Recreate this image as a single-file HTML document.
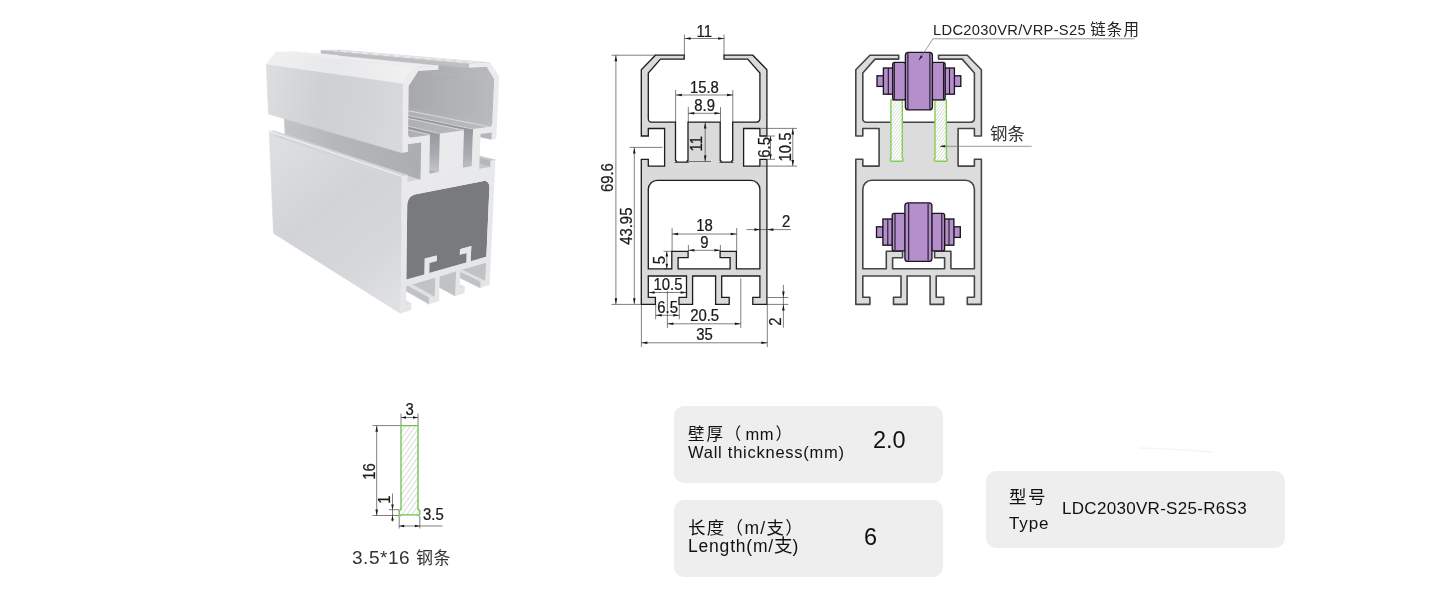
<!DOCTYPE html>
<html lang="zh">
<head>
<meta charset="utf-8">
<title>LDC2030VR-S25-R6S3</title>
<style>
html,body{margin:0;padding:0;background:#fff;}
body{width:1440px;height:604px;position:relative;overflow:hidden;font-family:"Liberation Sans","Noto Sans CJK SC",sans-serif;color:#111;}
.box{position:absolute;background:#eeeeee;border-radius:10px;}
.lbl{will-change:transform;position:absolute;font-size:16px;line-height:16px;white-space:nowrap;color:#111;}
.val{will-change:transform;position:absolute;font-size:21px;line-height:21px;white-space:nowrap;color:#111;}
svg{position:absolute;left:0;top:0;will-change:transform;}
</style>
</head>
<body>
<div class="box" style="left:674px;top:406px;width:269px;height:77px;"></div>
<div class="lbl" style="left:688px;top:426.2px;font-size:16.5px;letter-spacing:1.9px;">壁厚<span style="letter-spacing:4.2px;">（</span><span style="letter-spacing:0.5px;">mm</span><span style="margin-left:1.6px;">）</span></div>
<div class="lbl" style="left:688px;top:443.8px;font-size:16.5px;letter-spacing:0.75px;">Wall thickness(mm)</div>
<div class="val" style="left:873px;top:429px;font-size:23.5px;line-height:23px;">2.0</div>

<div class="box" style="left:674px;top:500px;width:269px;height:77px;"></div>
<div class="lbl" style="left:688px;top:519.8px;font-size:17.5px;letter-spacing:1.3px;">长度（m/支）</div>
<div class="lbl" style="left:688px;top:538px;font-size:17.5px;letter-spacing:0.8px;">Length(m/<span style="font-size:18.5px;letter-spacing:0">支</span>)</div>
<div class="val" style="left:864px;top:526.2px;font-size:23.5px;line-height:23px;">6</div>

<div class="box" style="left:986px;top:471px;width:299px;height:77px;"></div>
<div class="lbl" style="left:1009px;top:488.8px;font-size:17.5px;letter-spacing:1.6px;">型号</div>
<div class="lbl" style="left:1009px;top:515.8px;font-size:17px;letter-spacing:0.9px;">Type</div>
<div class="lbl" style="left:1062px;top:500.6px;font-size:17px;letter-spacing:0.3px;">LDC2030VR-S25-R6S3</div>

<div class="lbl" style="left:351.5px;top:547.7px;font-size:19px;line-height:19px;letter-spacing:0.55px;color:#333;">3.5*16 <span style="font-size:17px;letter-spacing:0.3px;">钢条</span></div>

<div class="lbl" style="left:933px;top:21px;font-size:14.7px;line-height:17px;letter-spacing:0.3px;color:#222;">LDC2030VR/VRP-S25 <span style="font-size:15.5px;letter-spacing:1.1px;">链条用</span></div>
<div class="lbl" style="left:990.3px;top:124.3px;font-size:17.5px;line-height:20px;color:#333;">钢条</div>

<svg id="draw" width="1440" height="604" viewBox="0 0 1440 604">
<!--3D-START-->
<defs>
<filter id="soft" x="-5%" y="-5%" width="110%" height="110%"><feGaussianBlur stdDeviation="0.45"/></filter>
<linearGradient id="gSideU" gradientUnits="userSpaceOnUse" x1="266" y1="90" x2="402" y2="112"><stop offset="0" stop-color="#dcdddf"/><stop offset="0.4" stop-color="#cfd0d3"/><stop offset="0.72" stop-color="#d2d3d6"/><stop offset="1" stop-color="#d8d9db"/></linearGradient>
<linearGradient id="gSideL" gradientUnits="userSpaceOnUse" x1="275" y1="150" x2="395" y2="300"><stop offset="0" stop-color="#dddee0"/><stop offset="0.4" stop-color="#d2d3d6"/><stop offset="0.75" stop-color="#d6d7da"/><stop offset="1" stop-color="#dfe0e2"/></linearGradient>
<linearGradient id="gCham" gradientUnits="userSpaceOnUse" x1="270" y1="58" x2="410" y2="76"><stop offset="0" stop-color="#f0f0f1"/><stop offset="0.45" stop-color="#e7e8e9"/><stop offset="1" stop-color="#f1f1f2"/></linearGradient>
<linearGradient id="gTop" gradientUnits="userSpaceOnUse" x1="330" y1="50" x2="480" y2="62"><stop offset="0" stop-color="#d3d5d8"/><stop offset="1" stop-color="#d9dbde"/></linearGradient>
<linearGradient id="gInL" gradientUnits="userSpaceOnUse" x1="400" y1="0" x2="500" y2="0"><stop offset="0" stop-color="#a5a7ab"/><stop offset="1" stop-color="#b9bbbe"/></linearGradient>
<linearGradient id="gInU" gradientUnits="userSpaceOnUse" x1="400" y1="0" x2="500" y2="0"><stop offset="0" stop-color="#adafb3"/><stop offset="1" stop-color="#bbbdc0"/></linearGradient>
<linearGradient id="gFront" gradientUnits="userSpaceOnUse" x1="400" y1="60" x2="500" y2="300"><stop offset="0" stop-color="#ededee"/><stop offset="1" stop-color="#e4e5e7"/></linearGradient>
<linearGradient id="gSlot" gradientUnits="userSpaceOnUse" x1="0" y1="128" x2="0" y2="172"><stop offset="0" stop-color="#93969a"/><stop offset="0.6" stop-color="#a8abaf"/><stop offset="1" stop-color="#c4c6c9"/></linearGradient>
<linearGradient id="gGroove" gradientUnits="userSpaceOnUse" x1="284" y1="0" x2="420" y2="0"><stop offset="0" stop-color="#c2c4c7"/><stop offset="0.4" stop-color="#b4b6ba"/><stop offset="1" stop-color="#abaeb1"/></linearGradient>
</defs>
<g id="render3d" filter="url(#soft)">
<polygon points="485.3,280.5 480.7,282 341.3,214.7 345.3,213.9" fill="#dfe1e3" stroke="#dfe1e3" stroke-width="0.6" stroke-linejoin="round"/>
<polygon points="486.1,262.8 485.3,280.5 345.3,213.9 345.1,200.3" fill="#c0c2c6" stroke="#c0c2c6" stroke-width="0.6" stroke-linejoin="round"/>
<polygon points="480.7,282 480.4,287.9 341.3,219.2 341.3,214.7" fill="#c0c2c6" stroke="#c0c2c6" stroke-width="0.6" stroke-linejoin="round"/>
<polygon points="464.9,286.9 459.8,288.5 323.2,218.4 327.6,217.5" fill="#dfe1e3" stroke="#dfe1e3" stroke-width="0.6" stroke-linejoin="round"/>
<polygon points="456.1,271.6 455.3,295.9 319.7,223.7 319.2,205.2" fill="#c0c2c6" stroke="#c0c2c6" stroke-width="0.6" stroke-linejoin="round"/>
<polygon points="495.4,160 490.6,160.8 344.1,122.9 348.2,122.5" fill="#c6c8cb" stroke="#c6c8cb" stroke-width="0.6" stroke-linejoin="round"/>
<polygon points="490.6,160.8 490.4,167 344.2,127.6 344.1,122.9" fill="#b4b7bb" stroke="#b4b7bb" stroke-width="0.6" stroke-linejoin="round"/>
<polygon points="490.4,167 479.2,169 334.5,128.7 344.2,127.6" fill="#c6c8cb" stroke="#c6c8cb" stroke-width="0.6" stroke-linejoin="round"/>
<polygon points="491.9,132.4 491.6,139.4 343.9,106.9 343.9,101.7" fill="#b4b7bb" stroke="#b4b7bb" stroke-width="0.6" stroke-linejoin="round"/>
<polygon points="434.8,296.4 429.3,298.1 297.3,223.6 301.9,222.7" fill="#dfe1e3" stroke="#dfe1e3" stroke-width="0.6" stroke-linejoin="round"/>
<polygon points="435.2,277.7 434.8,296.4 301.9,222.7 301.5,208.5" fill="#c0c2c6" stroke="#c0c2c6" stroke-width="0.6" stroke-linejoin="round"/>
<polygon points="429.3,298.1 429.2,304.3 297.4,228.3 297.3,223.6" fill="#c0c2c6" stroke="#c0c2c6" stroke-width="0.6" stroke-linejoin="round"/>
<polygon points="492.3,123.3 491.9,125 343.5,96.1 343.8,94.9" fill="url(#gInL)" stroke="url(#gInL)" stroke-width="0.6" stroke-linejoin="round"/>
<polygon points="491.9,125 491,126.3 342.8,97.1 343.5,96.1" fill="url(#gInL)" stroke="url(#gInL)" stroke-width="0.6" stroke-linejoin="round"/>
<polygon points="491,126.3 489.8,126.9 341.7,97.5 342.8,97.1" fill="url(#gInU)" stroke="url(#gInU)" stroke-width="0.6" stroke-linejoin="round"/>
<polygon points="494.3,79.3 492.3,123.3 343.8,94.9 343.4,62.3" fill="url(#gInL)" stroke="url(#gInL)" stroke-width="0.6" stroke-linejoin="round"/>
<polygon points="489.8,126.9 473.1,129.1 327.4,98.7 341.7,97.5" fill="url(#gInU)" stroke="url(#gInU)" stroke-width="0.6" stroke-linejoin="round"/>
<polygon points="471.7,166.2 462.8,167.8 320.3,127.2 327.9,126.3" fill="url(#gInU)" stroke="url(#gInU)" stroke-width="0.6" stroke-linejoin="round"/>
<polygon points="473.1,129.1 471.7,166.2 327.9,126.3 327.4,98.7" fill="url(#gSlot)" stroke="url(#gSlot)" stroke-width="0.6" stroke-linejoin="round"/>
<polygon points="411.5,303.7 406.1,305.4 277.8,227.6 282.4,226.7" fill="#dfe1e3" stroke="#dfe1e3" stroke-width="0.6" stroke-linejoin="round"/>
<polygon points="486.8,66.7 494.3,79.3 343.4,62.3 336.3,52.9" fill="url(#gInL)" stroke="url(#gInL)" stroke-width="0.6" stroke-linejoin="round"/>
<polygon points="490,62.6 469.1,63.9 321,50.6 338.9,50" fill="url(#gTop)" stroke="url(#gTop)" stroke-width="0.6" stroke-linejoin="round"/>
<polygon points="464,130.3 439.8,133.6 299.2,101.1 319.7,99.4" fill="url(#gInU)" stroke="url(#gInU)" stroke-width="0.6" stroke-linejoin="round"/>
<polygon points="438.9,172 429.3,173.7 292,130.4 300.1,129.5" fill="url(#gInU)" stroke="url(#gInU)" stroke-width="0.6" stroke-linejoin="round"/>
<polygon points="439.8,133.6 438.9,172 300.1,129.5 299.2,101.1" fill="url(#gSlot)" stroke="url(#gSlot)" stroke-width="0.6" stroke-linejoin="round"/>
<polygon points="469.1,63.9 469,67.8 321.1,53.5 321,50.6" fill="#bdbfc2" stroke="#bdbfc2" stroke-width="0.6" stroke-linejoin="round"/>
<polygon points="401.8,176.3 400.5,313.5 273.5,233.3 269.2,131.2" fill="url(#gSideL)" stroke="url(#gSideL)" stroke-width="0.6" stroke-linejoin="round"/>
<polygon points="420.6,179.6 407.5,182 274.1,135.7 285,134.4" fill="#d3d5d8" stroke="#d3d5d8" stroke-width="0.6" stroke-linejoin="round"/>
<polygon points="421.2,142.4 420.6,179.6 285,134.4 284,107.1" fill="url(#gGroove)" stroke="url(#gGroove)" stroke-width="0.6" stroke-linejoin="round"/>
<polygon points="430,134.9 410.9,137.5 275.2,103.2 291,101.8" fill="url(#gInU)" stroke="url(#gInU)" stroke-width="0.6" stroke-linejoin="round"/>
<polygon points="407.6,175.3 401.8,176.3 269.2,131.2 273.9,130.7" fill="#d3d5d8" stroke="#d3d5d8" stroke-width="0.6" stroke-linejoin="round"/>
<polygon points="410.9,137.5 409.5,137.2 274,102.9 275.2,103.2" fill="url(#gInU)" stroke="url(#gInU)" stroke-width="0.6" stroke-linejoin="round"/>
<polygon points="438.4,65.7 414.9,67.1 275.7,52.3 295.2,51.6" fill="#eeeeef" stroke="#eeeeef" stroke-width="0.6" stroke-linejoin="round"/>
<polygon points="402.7,83.4 402.1,152.8 268.5,114.1 266.3,63.9" fill="url(#gSideU)" stroke="url(#gSideU)" stroke-width="0.6" stroke-linejoin="round"/>
<polygon points="414.9,67.1 402.7,83.4 266.3,63.9 275.7,52.3" fill="url(#gCham)" stroke="url(#gCham)" stroke-width="0.6" stroke-linejoin="round"/>
<polyline points="472.8,62.5 457.8,61.2 443.5,59.9 430,58.8 417.2,57.7 405.1,56.6 393.5,55.6 382.5,54.7 372,53.8 361.9,52.9 352.3,52.1 343.2,51.3 334.4,50.5" fill="none" stroke="#eceded" stroke-width="1.6" stroke-dasharray="6 4.5"/>
<polyline points="479.2,62.1 464.1,60.8 449.8,59.6 436.3,58.5 423.4,57.4 411.2,56.3 399.5,55.4 388.4,54.4 377.8,53.5 367.7,52.7 358.1,51.9 348.8,51.1 340,50.3" fill="none" stroke="#e4e5e7" stroke-width="1.1" stroke-dasharray="6 4.5"/>
<polyline points="401.8,176.3 379.9,168.8 359.9,162 341.5,155.8 324.7,150.1 309.2,144.8 294.8,140 281.5,135.4 269.2,131.2" fill="none" stroke="#f1f1f2" stroke-width="1.1"/>
<clipPath id="cpCh"><polygon points="438.4,65.7 438.4,69.7 419.1,71 408.7,86.5 408,137.9 492.2,126.6 494.2,79.7 486.2,66.7 469,67.8 469.1,63.9"/></clipPath>
<g clip-path="url(#cpCh)" fill="none" stroke="#d9dadc" stroke-width="0.9">
<polyline points="489.5,126.9 465.5,122.1 443.4,117.7 423.1,113.7 404.3,110 386.9,106.5 370.7,103.3 355.6,100.3 341.5,97.5"/>
<polyline points="473.1,129.1 449.3,124.2 427.5,119.6 407.5,115.4 389,111.6 371.9,108 356,104.7 341.2,101.6 327.4,98.7"/>
<polyline points="464,130.3 440.4,125.3 418.8,120.6 398.9,116.4 380.6,112.4 363.7,108.8 347.9,105.4 333.3,102.3 319.7,99.4"/>
<polyline points="439.8,133.6 416.7,128.2 395.5,123.4 376.1,118.9 358.3,114.8 341.8,111 326.6,107.4 312.4,104.2 299.2,101.1"/>
<polyline points="430,134.9 407.1,129.4 386.2,124.5 367,119.9 349.4,115.7 333.1,111.8 318,108.2 304,104.9 291,101.8"/>
</g>
<polygon points="407.2,204.8 407.6,202 408.7,199.3 410.3,197.1 412.4,195.4 414.6,194.6 483.7,181 485.6,181 487.2,181.8 488.5,183.3 489.3,185.4 489.4,187.8 486.4,256.7 470.7,261.2 471.3,246.1 460,249.2 459.8,254.8 466.7,252.9 466.4,262.4 429.2,273.1 429.4,263.1 436.8,261.1 436.9,255.4 424.7,258.6 424.4,274.5 406.4,279.6" fill="#797a7d"/>
<path d="M438.4 65.7L414.9 67.1L402.7 83.4L402.1 152.8L407.9 151.9L408 144.3L421.2 142.4L420.6 179.6L407.5 182L407.6 175.3L401.8 176.3L400.5 313.5L411.4 310L411.5 303.7L406.1 305.4L406.3 286.2L435.2 277.7L434.8 296.4L429.3 298.1L429.2 304.3L439.1 301.1L439.7 276.4L456.1 271.6L455.3 295.9L464.7 292.9L464.9 286.9L459.8 288.5L460.4 270.3L486.1 262.8L485.3 280.5L480.7 282L480.4 287.9L489.6 284.9L495.4 160L490.6 160.8L490.4 167L479.2 169L480.6 134L491.9 132.4L491.6 139.4L496.3 138.7L499.2 76.1L490 62.6L469.1 63.9L469 67.8L486.8 66.7L494.3 79.3L492.3 123.3L491.9 125L491 126.3L489.8 126.9L473.1 129.1L471.7 166.2L462.8 167.8L464 130.3L439.8 133.6L438.9 172L429.3 173.7L430 134.9L410.9 137.5L409.5 137.2L408.5 136L408.1 134.3L408.7 86.1L418.4 71L438.4 69.7ZM407.2 204.8L407.6 202L408.7 199.3L410.3 197.1L412.4 195.4L414.6 194.6L483.7 181L485.6 181L487.2 181.8L488.5 183.3L489.3 185.4L489.4 187.8L486.4 256.7L470.7 261.2L471.3 246.1L460 249.2L459.8 254.8L466.7 252.9L466.4 262.4L429.2 273.1L429.4 263.1L436.8 261.1L436.9 255.4L424.7 258.6L424.4 274.5L406.4 279.6Z" fill="url(#gFront)" fill-rule="evenodd"/>
</g>
<!--3D-END-->
<defs>
<pattern id="hatchS" width="2.4" height="2.4" patternUnits="userSpaceOnUse" patternTransform="rotate(-55)"><rect width="2.4" height="2.4" fill="#fff"/><line x1="0" y1="0" x2="2.4" y2="0" stroke="#bccbb5" stroke-width="1"/></pattern>
<pattern id="hatchL" width="4" height="4" patternUnits="userSpaceOnUse" patternTransform="rotate(-55)"><rect width="4" height="4" fill="#fff"/><line x1="0" y1="0" x2="4" y2="0" stroke="#9aa39a" stroke-width="0.8"/></pattern>
</defs>
<g id="profile-dim" font-family="'Liberation Sans',sans-serif">
<path d="M684.2 55.2L655.4 55.2L641.3 69.7L641.3 136L648.3 136L648.3 128.5L664.6 128.5L664.6 166.1L648.3 166.1L648.3 159.3L641.3 159.3L641.3 304.4L655.4 304.4L655.4 297.3L648.3 297.3L648.3 276L686.5 276L686.5 297.3L679 297.3L679 304.4L692.6 304.4L692.6 276L715.6 276L715.6 304.4L729.2 304.4L729.2 297.3L721.7 297.3L721.7 276L759.9 276L759.9 297.3L752.8 297.3L752.8 304.4L766.9 304.4L766.9 159.3L759.9 159.3L759.9 166.1L743.6 166.1L743.6 128.5L759.9 128.5L759.9 136L766.9 136L766.9 69.7L752.8 55.2L724 55.2L724 59.1L747.7 59.1L759.9 73L759.9 118.7A3.5 3.5 0 0 1 756.4 122.2L732.7 122.2L732.7 160.4A1 1 0 0 0 732.1 162.2L720.8 162.2A1 1 0 0 0 720.2 160.4L720.2 122.2L688 122.2L688 160.4A1 1 0 0 0 687.4 162.2L676.1 162.2A1 1 0 0 0 675.5 160.4L675.5 122.2L651.8 122.2A3.5 3.5 0 0 1 648.3 118.7L648.3 73L660.5 59.1L684.2 59.1ZM657.3 180.3L750.9 180.3A9 9 0 0 1 759.9 189.3L759.9 268.8L736.4 268.8L736.4 251.3L720.1 251.3L720.1 257.7L730.1 257.7L730.1 268.8L678.1 268.8L678.1 257.7L688.1 257.7L688.1 251.3L671.8 251.3L671.8 268.8L648.3 268.8L648.3 189.3A9 9 0 0 1 657.3 180.3Z" fill="#dadada" fill-rule="evenodd" stroke="#1c1c1c" stroke-width="1.3" stroke-linejoin="miter"/>
<line x1="684.4" y1="34.5" x2="684.4" y2="55" stroke="#2a2a2a" stroke-width="0.6" fill="none"/>
<line x1="724" y1="34.5" x2="724" y2="55" stroke="#2a2a2a" stroke-width="0.6" fill="none"/>
<line x1="684.6" y1="38.5" x2="724.2" y2="38.5" stroke="#2a2a2a" stroke-width="0.6" fill="none"/>
<polygon points="684.6,38.5 690.6,37.2 690.6,39.8" fill="#1a1a1a"/>
<polygon points="724.2,38.5 718.2,39.8 718.2,37.2" fill="#1a1a1a"/>
<text font-size="16" text-anchor="middle" fill="#1a1a1a" stroke="#1a1a1a" stroke-width="0.25" transform="translate(704.2 36.6) scale(0.93 1)">11</text>
<line x1="675.6" y1="90" x2="675.6" y2="122" stroke="#2a2a2a" stroke-width="0.6" fill="none"/>
<line x1="732.8" y1="90" x2="732.8" y2="122" stroke="#2a2a2a" stroke-width="0.6" fill="none"/>
<line x1="675.8" y1="95" x2="733" y2="95" stroke="#2a2a2a" stroke-width="0.6" fill="none"/>
<polygon points="675.8,95 681.8,93.7 681.8,96.3" fill="#1a1a1a"/>
<polygon points="733,95 727,96.3 727,93.7" fill="#1a1a1a"/>
<text font-size="16" text-anchor="middle" fill="#1a1a1a" stroke="#1a1a1a" stroke-width="0.25" transform="translate(704.4 92.6) scale(0.93 1)">15.8</text>
<line x1="688.3" y1="107" x2="688.3" y2="122" stroke="#2a2a2a" stroke-width="0.6" fill="none"/>
<line x1="720.5" y1="107" x2="720.5" y2="122" stroke="#2a2a2a" stroke-width="0.6" fill="none"/>
<line x1="688.3" y1="113.3" x2="720.5" y2="113.3" stroke="#2a2a2a" stroke-width="0.6" fill="none"/>
<polygon points="688.3,113.3 694.3,112 694.3,114.6" fill="#1a1a1a"/>
<polygon points="720.5,113.3 714.5,114.6 714.5,112" fill="#1a1a1a"/>
<text font-size="16" text-anchor="middle" fill="#1a1a1a" stroke="#1a1a1a" stroke-width="0.25" transform="translate(704.6 111.2) scale(0.93 1)">8.9</text>
<line x1="705.2" y1="122.2" x2="705.2" y2="161.5" stroke="#2a2a2a" stroke-width="0.6" fill="none"/>
<line x1="688.3" y1="161.5" x2="711" y2="161.5" stroke="#2a2a2a" stroke-width="0.6" fill="none"/>
<polygon points="705.2,122.4 706.5,128.4 703.9,128.4" fill="#1a1a1a"/>
<polygon points="705.2,161.4 703.9,155.4 706.5,155.4" fill="#1a1a1a"/>
<text font-size="16" text-anchor="middle" fill="#1a1a1a" stroke="#1a1a1a" stroke-width="0.25" transform="translate(701.5 143.8) rotate(-90) scale(0.93 1)">11</text>
<line x1="767.5" y1="136" x2="775" y2="136" stroke="#2a2a2a" stroke-width="0.6" fill="none"/>
<line x1="767.5" y1="159.3" x2="775" y2="159.3" stroke="#2a2a2a" stroke-width="0.6" fill="none"/>
<line x1="770.5" y1="136" x2="770.5" y2="159.3" stroke="#2a2a2a" stroke-width="0.6" fill="none"/>
<polygon points="770.5,136.1 771.8,141.1 769.2,141.1" fill="#1a1a1a"/>
<polygon points="770.5,159.2 769.2,154.2 771.8,154.2" fill="#1a1a1a"/>
<text font-size="16" text-anchor="middle" fill="#1a1a1a" stroke="#1a1a1a" stroke-width="0.25" transform="translate(769.5 147.4) rotate(-90) scale(0.93 1)">6.5</text>
<line x1="761" y1="128.4" x2="797" y2="128.4" stroke="#2a2a2a" stroke-width="0.6" fill="none"/>
<line x1="761" y1="166.1" x2="797" y2="166.1" stroke="#2a2a2a" stroke-width="0.6" fill="none"/>
<line x1="792.8" y1="128.4" x2="792.8" y2="166.1" stroke="#2a2a2a" stroke-width="0.6" fill="none"/>
<polygon points="792.8,128.5 794.1,134.5 791.5,134.5" fill="#1a1a1a"/>
<polygon points="792.8,166 791.5,160 794.1,160" fill="#1a1a1a"/>
<text font-size="16" text-anchor="middle" fill="#1a1a1a" stroke="#1a1a1a" stroke-width="0.25" transform="translate(791.3 147) rotate(-90) scale(0.93 1)">10.5</text>
<line x1="611.5" y1="55.2" x2="656" y2="55.2" stroke="#2a2a2a" stroke-width="0.6" fill="none"/>
<line x1="611.5" y1="304.4" x2="641" y2="304.4" stroke="#2a2a2a" stroke-width="0.6" fill="none"/>
<line x1="615.9" y1="55.2" x2="615.9" y2="304.4" stroke="#2a2a2a" stroke-width="0.6" fill="none"/>
<polygon points="615.9,55.3 617.2,61.3 614.6,61.3" fill="#1a1a1a"/>
<polygon points="615.9,304.3 614.6,298.3 617.2,298.3" fill="#1a1a1a"/>
<text font-size="16" text-anchor="middle" fill="#1a1a1a" stroke="#1a1a1a" stroke-width="0.25" transform="translate(612.8 177.6) rotate(-90) scale(0.93 1)">69.6</text>
<line x1="629.5" y1="147.4" x2="662.5" y2="147.4" stroke="#2a2a2a" stroke-width="0.6" fill="none"/>
<line x1="634.3" y1="147.4" x2="634.3" y2="304.4" stroke="#2a2a2a" stroke-width="0.6" fill="none"/>
<polygon points="634.3,147.5 635.6,153.5 633,153.5" fill="#1a1a1a"/>
<polygon points="634.3,304.3 633,298.3 635.6,298.3" fill="#1a1a1a"/>
<text font-size="16" text-anchor="middle" fill="#1a1a1a" stroke="#1a1a1a" stroke-width="0.25" transform="translate(631.8 226.2) rotate(-90) scale(0.93 1)">43.95</text>
<line x1="746.5" y1="229.6" x2="791" y2="229.6" stroke="#2a2a2a" stroke-width="0.6" fill="none"/>
<polygon points="760.4,229.6 754.4,230.9 754.4,228.3" fill="#1a1a1a"/>
<polygon points="767.4,229.6 773.4,228.3 773.4,230.9" fill="#1a1a1a"/>
<text font-size="16" text-anchor="middle" fill="#1a1a1a" stroke="#1a1a1a" stroke-width="0.25" transform="translate(786.2 227.2) scale(0.93 1)">2</text>
<line x1="672.1" y1="228" x2="672.1" y2="251" stroke="#2a2a2a" stroke-width="0.6" fill="none"/>
<line x1="736.7" y1="228" x2="736.7" y2="251" stroke="#2a2a2a" stroke-width="0.6" fill="none"/>
<line x1="672.1" y1="234" x2="736.7" y2="234" stroke="#2a2a2a" stroke-width="0.6" fill="none"/>
<polygon points="672.1,234 678.1,232.7 678.1,235.3" fill="#1a1a1a"/>
<polygon points="736.7,234 730.7,235.3 730.7,232.7" fill="#1a1a1a"/>
<text font-size="16" text-anchor="middle" fill="#1a1a1a" stroke="#1a1a1a" stroke-width="0.25" transform="translate(704.4 231.4) scale(0.93 1)">18</text>
<line x1="688.4" y1="245" x2="688.4" y2="251" stroke="#2a2a2a" stroke-width="0.6" fill="none"/>
<line x1="720.4" y1="245" x2="720.4" y2="251" stroke="#2a2a2a" stroke-width="0.6" fill="none"/>
<line x1="688.4" y1="250.3" x2="720.4" y2="250.3" stroke="#2a2a2a" stroke-width="0.6" fill="none"/>
<polygon points="688.4,250.3 694.4,249 694.4,251.6" fill="#1a1a1a"/>
<polygon points="720.4,250.3 714.4,251.6 714.4,249" fill="#1a1a1a"/>
<text font-size="16" text-anchor="middle" fill="#1a1a1a" stroke="#1a1a1a" stroke-width="0.25" transform="translate(704.4 248) scale(0.93 1)">9</text>
<line x1="663.5" y1="251.3" x2="672" y2="251.3" stroke="#2a2a2a" stroke-width="0.6" fill="none"/>
<line x1="663.5" y1="268.8" x2="672" y2="268.8" stroke="#2a2a2a" stroke-width="0.6" fill="none"/>
<line x1="666.8" y1="251.3" x2="666.8" y2="268.8" stroke="#2a2a2a" stroke-width="0.6" fill="none"/>
<polygon points="666.8,251.4 668.1,256.4 665.5,256.4" fill="#1a1a1a"/>
<polygon points="666.8,268.7 665.5,263.7 668.1,263.7" fill="#1a1a1a"/>
<text font-size="16" text-anchor="middle" fill="#1a1a1a" stroke="#1a1a1a" stroke-width="0.25" transform="translate(664.6 260.1) rotate(-90) scale(0.93 1)">5</text>
<line x1="648.4" y1="292.5" x2="686.8" y2="292.5" stroke="#2a2a2a" stroke-width="0.6" fill="none"/>
<polygon points="648.6,292.5 654.6,291.2 654.6,293.8" fill="#1a1a1a"/>
<polygon points="686.6,292.5 680.6,293.8 680.6,291.2" fill="#1a1a1a"/>
<text font-size="16" text-anchor="middle" fill="#1a1a1a" stroke="#1a1a1a" stroke-width="0.25" transform="translate(668 290) scale(0.93 1)">10.5</text>
<line x1="655.7" y1="304.4" x2="655.7" y2="319.3" stroke="#2a2a2a" stroke-width="0.6" fill="none"/>
<line x1="679.3" y1="304.4" x2="679.3" y2="319.3" stroke="#2a2a2a" stroke-width="0.6" fill="none"/>
<line x1="655.7" y1="315.3" x2="679.3" y2="315.3" stroke="#2a2a2a" stroke-width="0.6" fill="none"/>
<polygon points="655.7,315.3 661.7,314 661.7,316.6" fill="#1a1a1a"/>
<polygon points="679.3,315.3 673.3,316.6 673.3,314" fill="#1a1a1a"/>
<text font-size="16" text-anchor="middle" fill="#1a1a1a" stroke="#1a1a1a" stroke-width="0.25" transform="translate(667.6 312.8) scale(0.93 1)">6.5</text>
<line x1="667.4" y1="291" x2="667.4" y2="328" stroke="#2a2a2a" stroke-width="0.6" fill="none"/>
<line x1="740.8" y1="278.4" x2="740.8" y2="328" stroke="#2a2a2a" stroke-width="0.6" fill="none"/>
<line x1="667.4" y1="323.8" x2="740.8" y2="323.8" stroke="#2a2a2a" stroke-width="0.6" fill="none"/>
<polygon points="667.4,323.8 673.4,322.5 673.4,325.1" fill="#1a1a1a"/>
<polygon points="740.8,323.8 734.8,325.1 734.8,322.5" fill="#1a1a1a"/>
<text font-size="16" text-anchor="middle" fill="#1a1a1a" stroke="#1a1a1a" stroke-width="0.25" transform="translate(704.6 321.2) scale(0.93 1)">20.5</text>
<line x1="641.4" y1="304.4" x2="641.4" y2="347" stroke="#2a2a2a" stroke-width="0.6" fill="none"/>
<line x1="767.3" y1="304.4" x2="767.3" y2="347" stroke="#2a2a2a" stroke-width="0.6" fill="none"/>
<line x1="641.4" y1="342.8" x2="767.3" y2="342.8" stroke="#2a2a2a" stroke-width="0.6" fill="none"/>
<polygon points="641.4,342.8 647.4,341.5 647.4,344.1" fill="#1a1a1a"/>
<polygon points="767.3,342.8 761.3,344.1 761.3,341.5" fill="#1a1a1a"/>
<text font-size="16" text-anchor="middle" fill="#1a1a1a" stroke="#1a1a1a" stroke-width="0.25" transform="translate(704.4 340.3) scale(0.93 1)">35</text>
<line x1="767.4" y1="297.5" x2="788.3" y2="297.5" stroke="#2a2a2a" stroke-width="0.6" fill="none"/>
<line x1="767.4" y1="304.4" x2="788.3" y2="304.4" stroke="#2a2a2a" stroke-width="0.6" fill="none"/>
<line x1="783.4" y1="284.8" x2="783.4" y2="327.7" stroke="#2a2a2a" stroke-width="0.6" fill="none"/>
<polygon points="783.4,297.4 782.1,291.4 784.7,291.4" fill="#1a1a1a"/>
<polygon points="783.4,304.5 784.7,310.5 782.1,310.5" fill="#1a1a1a"/>
<text font-size="16" text-anchor="middle" fill="#1a1a1a" stroke="#1a1a1a" stroke-width="0.25" transform="translate(781 321.6) rotate(-90) scale(0.93 1)">2</text>
</g>
<g id="profile-asm" font-family="'Liberation Sans','Noto Sans CJK SC',sans-serif">
<path d="M898.7 55.2L869.9 55.2L855.8 69.7L855.8 136L862.8 136L862.8 128.5L879.1 128.5L879.1 166.1L862.8 166.1L862.8 159.3L855.8 159.3L855.8 304.4L869.9 304.4L869.9 297.3L862.8 297.3L862.8 276L901 276L901 297.3L893.5 297.3L893.5 304.4L907.1 304.4L907.1 276L930.1 276L930.1 304.4L943.7 304.4L943.7 297.3L936.2 297.3L936.2 276L974.4 276L974.4 297.3L967.3 297.3L967.3 304.4L981.4 304.4L981.4 159.3L974.4 159.3L974.4 166.1L958.1 166.1L958.1 128.5L974.4 128.5L974.4 136L981.4 136L981.4 69.7L967.3 55.2L938.5 55.2L938.5 59.1L962.2 59.1L974.4 73L974.4 118.7A3.5 3.5 0 0 1 970.9 122.2L890 122.2L866.3 122.2A3.5 3.5 0 0 1 862.8 118.7L862.8 73L875 59.1L898.7 59.1ZM871.8 180.3L965.4 180.3A9 9 0 0 1 974.4 189.3L974.4 268.8L950.9 268.8L950.9 251.3L934.6 251.3L934.6 257.7L944.6 257.7L944.6 268.8L892.6 268.8L892.6 257.7L902.6 257.7L902.6 251.3L886.3 251.3L886.3 268.8L862.8 268.8L862.8 189.3A9 9 0 0 1 871.8 180.3Z" fill="#dcdcdc" fill-rule="evenodd" stroke="#454545" stroke-width="1.6" stroke-linejoin="round"/>
<path d="M890.9 100L902.3 100L902.3 158.2L903 159L903 160.4L902.3 161.2L890.9 161.2L890.2 160.4L890.2 159L890.9 158.2Z" fill="url(#hatchS)" stroke="#86cc52" stroke-width="1.4" stroke-linejoin="round"/>
<path d="M935 100L946.4 100L946.4 158.2L947.1 159L947.1 160.4L946.4 161.2L935 161.2L934.3 160.4L934.3 159L935 158.2Z" fill="url(#hatchS)" stroke="#86cc52" stroke-width="1.4" stroke-linejoin="round"/>
<rect x="877" y="75.8" width="6.6" height="10.6" rx="0" fill="#b48fcb" stroke="#1c1620" stroke-width="1.35"/><rect x="954.2" y="75.8" width="6.6" height="10.6" rx="0" fill="#b48fcb" stroke="#1c1620" stroke-width="1.35"/><rect x="883.4" y="68" width="9.5" height="26.2" rx="0" fill="#b48fcb" stroke="#1c1620" stroke-width="1.35"/><rect x="944.9" y="68" width="9.5" height="26.2" rx="0" fill="#b48fcb" stroke="#1c1620" stroke-width="1.35"/><line x1="888.3" y1="68" x2="888.3" y2="94.2" stroke="#1c1620" stroke-width="1.1"/><line x1="949.5" y1="68" x2="949.5" y2="94.2" stroke="#1c1620" stroke-width="1.1"/><rect x="892.7" y="62.3" width="13" height="37.6" rx="2" fill="#b48fcb" stroke="#1c1620" stroke-width="1.35"/><rect x="932.1" y="62.3" width="13" height="37.6" rx="2" fill="#b48fcb" stroke="#1c1620" stroke-width="1.35"/><line x1="894.3" y1="63.1" x2="894.3" y2="99.1" stroke="#1c1620" stroke-width="1.1"/><line x1="943.5" y1="63.1" x2="943.5" y2="99.1" stroke="#1c1620" stroke-width="1.1"/><rect x="905.4" y="52.3" width="27" height="57.6" rx="3" fill="#b48fcb" stroke="#1c1620" stroke-width="1.35"/><line x1="907.9" y1="53.1" x2="907.9" y2="109.1" stroke="#1c1620" stroke-width="1.1"/><line x1="929.9" y1="53.1" x2="929.9" y2="109.1" stroke="#1c1620" stroke-width="1.1"/>
<rect x="876.5" y="226.8" width="6.6" height="10.6" rx="0" fill="#b48fcb" stroke="#1c1620" stroke-width="1.35"/><rect x="953.7" y="226.8" width="6.6" height="10.6" rx="0" fill="#b48fcb" stroke="#1c1620" stroke-width="1.35"/><rect x="882.9" y="219" width="9.5" height="26.2" rx="0" fill="#b48fcb" stroke="#1c1620" stroke-width="1.35"/><rect x="944.4" y="219" width="9.5" height="26.2" rx="0" fill="#b48fcb" stroke="#1c1620" stroke-width="1.35"/><line x1="887.8" y1="219" x2="887.8" y2="245.2" stroke="#1c1620" stroke-width="1.1"/><line x1="949" y1="219" x2="949" y2="245.2" stroke="#1c1620" stroke-width="1.1"/><rect x="892.2" y="213.3" width="13" height="37.6" rx="2" fill="#b48fcb" stroke="#1c1620" stroke-width="1.35"/><rect x="931.6" y="213.3" width="13" height="37.6" rx="2" fill="#b48fcb" stroke="#1c1620" stroke-width="1.35"/><line x1="895" y1="214.1" x2="895" y2="250.1" stroke="#1c1620" stroke-width="1.1"/><line x1="941.8" y1="214.1" x2="941.8" y2="250.1" stroke="#1c1620" stroke-width="1.1"/><rect x="904.9" y="202.8" width="27" height="58.6" rx="3" fill="#b48fcb" stroke="#1c1620" stroke-width="1.35"/><line x1="908.7" y1="203.6" x2="908.7" y2="260.6" stroke="#1c1620" stroke-width="1.1"/><line x1="928.1" y1="203.6" x2="928.1" y2="260.6" stroke="#1c1620" stroke-width="1.1"/>
<polyline points="1134.5,38.8 933,38.8 918.9,60.2" stroke="#707070" stroke-width="0.7" fill="none"/>
<polygon points="918.7,60.6 920.7,55.3 922.7,56.7" fill="#222"/>
<line x1="940" y1="146.3" x2="1031.7" y2="146.3" stroke="#707070" stroke-width="0.7" fill="none"/>
<polygon points="939.6,146.3 945.1,145 945.1,147.6" fill="#222"/>
</g>
<g id="strip-dim" font-family="'Liberation Sans',sans-serif">
<path d="M401 425.6L418 425.6L418 509.7L419.8 510.4L419.8 514.6L418.6 515.6L417.2 514.8L401.8 514.8L400.4 515.6L399.2 514.6L399.2 510.4L401 509.7Z" fill="url(#hatchL)" stroke="#6cc04a" stroke-width="1.3" stroke-linejoin="round"/>
<line x1="401" y1="413.5" x2="401" y2="425" stroke="#2a2a2a" stroke-width="0.6" fill="none"/>
<line x1="418" y1="413.5" x2="418" y2="425" stroke="#2a2a2a" stroke-width="0.6" fill="none"/>
<line x1="401" y1="417.5" x2="418" y2="417.5" stroke="#2a2a2a" stroke-width="0.6" fill="none"/>
<polygon points="401,417.5 406,416.2 406,418.8" fill="#1a1a1a"/>
<polygon points="418,417.5 413,418.8 413,416.2" fill="#1a1a1a"/>
<text font-size="16" text-anchor="middle" fill="#1a1a1a" stroke="#1a1a1a" stroke-width="0.25" transform="translate(409.6 415.2) scale(0.93 1)">3</text>
<line x1="372.5" y1="425.6" x2="400.5" y2="425.6" stroke="#2a2a2a" stroke-width="0.6" fill="none"/>
<line x1="372.5" y1="515.5" x2="399" y2="515.5" stroke="#2a2a2a" stroke-width="0.6" fill="none"/>
<line x1="376.7" y1="425.6" x2="376.7" y2="515.5" stroke="#2a2a2a" stroke-width="0.6" fill="none"/>
<polygon points="376.7,425.7 378,431.7 375.4,431.7" fill="#1a1a1a"/>
<polygon points="376.7,515.4 375.4,509.4 378,509.4" fill="#1a1a1a"/>
<text font-size="16" text-anchor="middle" fill="#1a1a1a" stroke="#1a1a1a" stroke-width="0.25" transform="translate(374.6 471.5) rotate(-90) scale(0.93 1)">16</text>
<line x1="389" y1="509.7" x2="399" y2="509.7" stroke="#2a2a2a" stroke-width="0.6" fill="none"/>
<line x1="392.5" y1="493.5" x2="392.5" y2="521.5" stroke="#2a2a2a" stroke-width="0.6" fill="none"/>
<polygon points="392.5,509.6 391.2,504.6 393.8,504.6" fill="#1a1a1a"/>
<polygon points="392.5,515.6 393.8,520.6 391.2,520.6" fill="#1a1a1a"/>
<text font-size="16" text-anchor="middle" fill="#1a1a1a" stroke="#1a1a1a" stroke-width="0.25" transform="translate(390 499.6) rotate(-90) scale(0.93 1)">1</text>
<line x1="399.2" y1="516" x2="399.2" y2="528.5" stroke="#2a2a2a" stroke-width="0.6" fill="none"/>
<line x1="419.8" y1="516" x2="419.8" y2="528.5" stroke="#2a2a2a" stroke-width="0.6" fill="none"/>
<line x1="399.2" y1="526" x2="442.5" y2="526" stroke="#2a2a2a" stroke-width="0.6" fill="none"/>
<polygon points="399.2,526 404.2,524.7 404.2,527.3" fill="#1a1a1a"/>
<polygon points="419.8,526 414.8,527.3 414.8,524.7" fill="#1a1a1a"/>
<text font-size="16" text-anchor="middle" fill="#1a1a1a" stroke="#1a1a1a" stroke-width="0.25" transform="translate(433.4 520.3) scale(0.93 1)">3.5</text>
</g>
<path d="M1140 448L1180 449.6L1200 451L1213 452.2" fill="none" stroke="#f5f5f5" stroke-width="1.4" stroke-linecap="round"/>
</svg>
</body>
</html>
